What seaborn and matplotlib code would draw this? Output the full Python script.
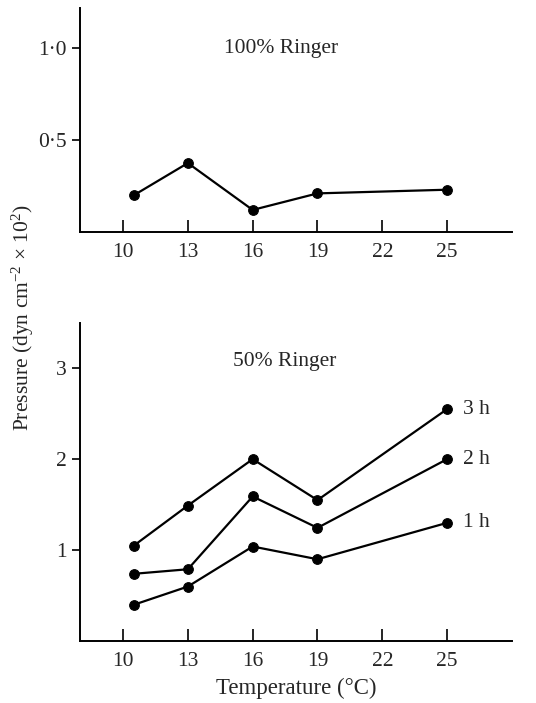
import matplotlib
matplotlib.use("Agg")
import matplotlib.pyplot as plt
import seaborn as sns
import pandas as pd

# Data
temps = [10.5, 13, 16, 19, 25]
ringer100 = [0.20, 0.375, 0.12, 0.21, 0.23]
h1 = [0.40, 0.60, 1.04, 0.90, 1.30]
h2 = [0.74, 0.79, 1.59, 1.245, 2.00]
h3 = [1.05, 1.49, 2.00, 1.55, 2.55]
series_labels = ["1 h", "2 h", "3 h"]
xticks = [10, 13, 16, 19, 22, 25]
top_yticks = [0.5, 1.0]
top_yticklabels = ["0·5", "1·0"]
bot_yticks = [1, 2, 3]
bot_yticklabels = ["1", "2", "3"]

sns.set_theme(style="white")
plt.rcParams["font.family"] = ["Liberation Serif", "DejaVu Serif"]
plt.rcParams["mathtext.fontset"] = "custom"
plt.rcParams["mathtext.rm"] = "Liberation Serif"
plt.rcParams["mathtext.it"] = "Liberation Serif:italic"

FS = 15.5

fig = plt.figure(figsize=(5.36, 7.03), dpi=100)
ax1 = fig.add_axes([0.149, 0.670, 0.806, 0.319])
ax2 = fig.add_axes([0.149, 0.088, 0.806, 0.453])

df_top = pd.DataFrame({"T": temps, "P": ringer100})
sns.lineplot(data=df_top, x="T", y="P", ax=ax1, color="black", lw=1.6,
             marker="o", markersize=7, markeredgecolor="black")

rows = []
for lab, vals in zip(series_labels, [h1, h2, h3]):
    for t, v in zip(temps, vals):
        rows.append({"T": t, "P": v, "S": lab})
df_bot = pd.DataFrame(rows)
sns.lineplot(data=df_bot, x="T", y="P", hue="S", ax=ax2,
             palette=["black"] * 3, lw=1.6, marker="o", markersize=7,
             markeredgecolor="black", legend=False)

for lab, vals in zip(series_labels, [h1, h2, h3]):
    ax2.text(temps[-1] + 0.75, vals[-1], lab, fontsize=FS, va="center", ha="left")

ax1.text(17.3, 1.0, "100% Ringer", fontsize=FS, ha="center", va="center")
ax2.text(17.5, 3.07, "50% Ringer", fontsize=FS, ha="center", va="center")

for ax in (ax1, ax2):
    for s in ("top", "right"):
        ax.spines[s].set_visible(False)
    for s in ("left", "bottom"):
        ax.spines[s].set_color("black")
        ax.spines[s].set_linewidth(1.4)
    ax.set_xlim(8, 28)
    ax.set_xticks(xticks)
    ax.set_xticklabels([str(t) for t in xticks])
    ax.tick_params(axis="x", direction="in", length=9, width=1.2, labelsize=FS,
                   pad=8, color="black", bottom=True)
    ax.tick_params(axis="y", direction="out", length=6, width=1.2, labelsize=FS,
                   color="black", left=True)
    ax.set_xlabel("")
    ax.set_ylabel("")
    ax.grid(False)

ax1.set_ylim(0, 1.22)
ax1.set_yticks(top_yticks)
ax1.set_yticklabels(top_yticklabels)
ax2.set_ylim(0, 3.5)
ax2.set_yticks(bot_yticks)
ax2.set_yticklabels(bot_yticklabels)

ax2.set_xlabel("Temperature (°C)", fontsize=16.5, labelpad=5)
fig.text(0.043, 0.548, "Pressure (dyn cm$^{-2}$ × 10$^{2}$)", rotation=90,
         fontsize=FS, ha="center", va="center")

fig.savefig("out.png", dpi=100)
